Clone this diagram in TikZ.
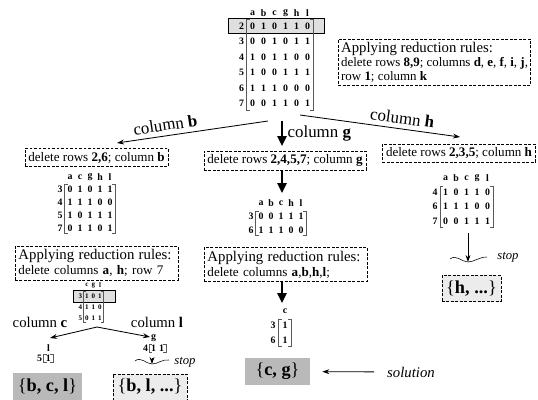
\documentclass[tikz,border=0pt]{standalone}
\usepackage{fontspec}
\setmainfont{Liberation Serif}
\usetikzlibrary{matrix, arrows.meta, positioning}

\tikzset{
	mat/.style 2 args={matrix of nodes, nodes={inner sep=0pt, anchor=center, minimum width=#1, minimum height=#2, font=\fontsize{7}{8}\selectfont\bfseries}},
	rule/.style={draw, dash pattern=on 2pt off 1.2pt, line width=0.5pt, inner sep=2.5pt, font=\fontsize{9.3}{10.5}\selectfont},
	res/.style={fill=gray!55, font=\fontsize{13}{15}\selectfont, minimum height=0.675cm},
	part/.style={rule, fill=gray!15, font=\fontsize{13}{15}\selectfont, minimum height=0.65cm},
	arr/.style={line width=0.6pt, -{Stealth[length=5pt,width=3.5pt]}},
	big/.style={line width=1.4pt, -{Triangle[width=6.5pt,length=7pt]}},
	lab/.style={font=\fontsize{12}{14}\selectfont}
}
\newcommand{\matbrk}[4]{%
	\draw[gray!70!black, line width=0.4pt] ([xshift=2pt,yshift=-1pt]#1-#2-2.north west) -- ([yshift=-1pt]#1-#2-2.north west) -- ([yshift=1pt]#1-#3-2.south west) -- ([xshift=2pt,yshift=1pt]#1-#3-2.south west);
	\draw[gray!70!black, line width=0.4pt] ([xshift=-2pt,yshift=-1pt]#1-#2-#4.north east) -- ([yshift=-1pt]#1-#2-#4.north east) -- ([yshift=1pt]#1-#3-#4.south east) -- ([xshift=-2pt,yshift=1pt]#1-#3-#4.south east);}

\begin{document}
\begin{tikzpicture}[x=0.025cm, y=-0.025cm]
	\useasboundingbox (0,0) rectangle (538,400);
	% start matrix
	\draw[fill=gray!25] (228,18) rectangle (324,33);
	\matrix[mat={0.275cm}{0.3875cm}] (m0) at (274.5,58.25) {
		  & a & b & c & g & h & l \\[-0.0625cm]
		2 & 0 & 1 & 0 & 1 & 1 & 0 \\
		3 & 0 & 0 & 1 & 0 & 1 & 1 \\
		4 & 1 & 0 & 1 & 1 & 0 & 0 \\
		5 & 1 & 0 & 0 & 1 & 1 & 1 \\
		6 & 1 & 1 & 1 & 0 & 0 & 0 \\
		7 & 0 & 0 & 1 & 1 & 0 & 1 \\
	};
	\matbrk{m0}{2}{7}{7}
	\node[rule, anchor=north west, align=left, inner sep=2pt, font=\fontsize{9.2}{10}\selectfont] (1) at (338,39) {{\fontsize{10.5}{11}\selectfont Applying reduction rules:}\\ delete rows \textbf{8,9}; columns \textbf{d}, \textbf{e}, \textbf{f}, \textbf{i}, \textbf{j},\\ row \textbf{1}; column \textbf{k}};
	\coordinate (a0) at (268,121);
	\coordinate (a1) at (117,143);
	\coordinate (a2) at (282,121);
	\coordinate (a3) at (282,146);
	\coordinate (a4) at (300,115);
	\coordinate (a5) at (460,137);
	\draw [arr] (a0) to node[lab, above, sloped, pos=0.67] {column \textbf{b}} (a1);
	\draw [big] (a2) to node[lab, right] {column \textbf{g}} (a3);
	\draw [arr] (a4) to node[lab, above, sloped, pos=0.63] {column \textbf{h}} (a5);
	% branch b
	\node[rule] (2) at (96.5,157.5) {delete rows \textbf{2,6}; column \textbf{b}};
	\matrix[mat={0.25cm}{0.319cm}] (m1) at (85,202.5) {
		  & a & c & g & h & l \\
		3 & 0 & 1 & 0 & 1 & 1 \\
		4 & 1 & 1 & 1 & 0 & 0 \\
		5 & 1 & 0 & 1 & 1 & 1 \\
		7 & 0 & 1 & 1 & 0 & 1 \\
	};
	\matbrk{m1}{2}{5}{6}
	\node[rule, text width=3.9cm, align=left] (5) at (96.5,263) {{\fontsize{10.5}{12}\selectfont Applying reduction rules:}\\ delete columns \textbf{a}, \textbf{h}; row 7};
	\draw[fill=gray!25] (73,290.5) rectangle (115,302);
	\matrix[mat={0.1625cm}{0.275cm}, nodes={font=\fontsize{5}{6}\selectfont\bfseries}] (m5) at (90.25,301.5) {
		  & c & g & l \\
		3 & 1 & 0 & 1 \\
		4 & 1 & 1 & 0 \\
		5 & 0 & 1 & 1 \\
	};
	\matbrk{m5}{2}{4}{4}
	\coordinate (c0) at (97,327);
	\coordinate (c1) at (50,338);
	\coordinate (c2) at (150,337);
	\draw [arr] (c0) to (c1);
	\draw [arr] (c0) to (c2);
	\node[font=\fontsize{10.5}{12}\selectfont] (14) at (40,322) {column \textbf{c}};
	\node[font=\fontsize{10.5}{12}\selectfont] (15) at (157,322) {column \textbf{l}};
	\matrix[mat={0.22cm}{0.25cm}, nodes={font=\fontsize{7}{8}\selectfont\bfseries}] (m6) at (44,353) {
		  & l \\
		5 & 1 \\
	};
	\matbrk{m6}{2}{2}{2}
	\matrix[mat={0.2cm}{0.25cm}, nodes={font=\fontsize{7}{8}\selectfont\bfseries}] (m7) at (153.5,343) {
		  & g &   \\
		4 & 1 & 1 \\
	};
	\matbrk{m7}{2}{2}{3}
	\coordinate (w1) at (152,364);
	\draw [arr] (m7.south -| w1) to (w1);
	\draw (135,361) .. controls (141,356) and (146,364) .. (152,364) .. controls (158,364) and (162,359) .. (169,360);
	\node[font=\fontsize{9}{10}\selectfont\itshape] (12) at (185,362) {stop};
	\node[res, minimum width=1.725cm] (7) at (47.5,386.5) {\{\textbf{b, c, l}\}};
	\node[part, minimum width=1.85cm] (8) at (150,387) {\{\textbf{b, l, ...}\}};
	% branch g
	\node[rule] (3) at (285,160.5) {delete rows \textbf{2,4,5,7}; column \textbf{g}};
	\coordinate (g1) at (282,193);
	\draw [big] (3.south -| g1) to (g1);
	\matrix[mat={0.25cm}{0.3375cm}] (m2) at (276,216.5) {
		  & a & b & c & h & l \\
		3 & 0 & 0 & 1 & 1 & 1 \\
		6 & 1 & 1 & 1 & 0 & 0 \\
	};
	\matbrk{m2}{2}{3}{6}
	\node[rule, text width=3.9cm, align=left] (6) at (285.5,264.5) {{\fontsize{10.5}{12}\selectfont Applying reduction rules:}\\ delete columns \textbf{a},\textbf{b},\textbf{h},\textbf{l};};
	\coordinate (g2) at (282,303);
	\draw [big] (6.south -| g2) to (g2);
	\matrix[mat={0.3cm}{0.3625cm}] (m3) at (279,325.5) {
		  & c \\
		3 & 1 \\
		6 & 1 \\
	};
	\matbrk{m3}{2}{3}{2}
	\node[res, minimum width=1.625cm] (9) at (277.5,371.5) {\{\textbf{c, g}\}};
	\node[font=\fontsize{10.5}{12}\selectfont\itshape] (11) at (411,372) {solution};
	\draw [arr, shorten <=0.2cm, shorten >=0.3cm] (11) to (9);
	% branch h
	\node[rule] (4) at (459,153) {delete rows \textbf{2,3,5}; column \textbf{h}};
	\matrix[mat={0.2625cm}{0.3575cm}] (m4) at (461.25,199.5) {
		  & a & b & c & g & l \\
		4 & 1 & 0 & 1 & 1 & 0 \\
		6 & 1 & 1 & 1 & 0 & 0 \\
		7 & 0 & 0 & 1 & 1 & 1 \\
	};
	\matbrk{m4}{2}{4}{6}
	\coordinate (w2) at (468,262);
	\draw [arr] (m4.south -| w2) to (w2);
	\draw (450,259) .. controls (456,254) and (462,262) .. (468,262) .. controls (474,262) and (479,257) .. (487,257);
	\node[font=\fontsize{9}{10}\selectfont\itshape] (13) at (508,257) {stop};
	\node[part, minimum width=1.475cm] (10) at (471.5,288.5) {\{\textbf{h, ...}\}};
\end{tikzpicture}
\end{document}
